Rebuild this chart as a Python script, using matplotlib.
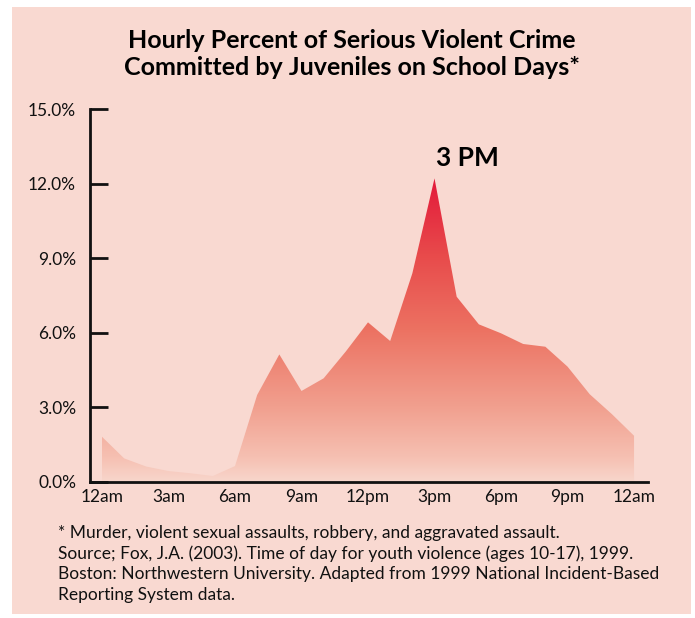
import numpy as np
import matplotlib.pyplot as plt
from matplotlib.colors import LinearSegmentedColormap
from matplotlib.patches import Polygon, Rectangle

# data: hourly share of serious violent crime, school days
hours = np.arange(0, 25)
pct = [1.82, 0.95, 0.62, 0.44, 0.35, 0.24, 0.64, 3.50, 5.13, 3.66, 4.17, 5.25,
       6.42, 5.67, 8.39, 12.21, 7.45, 6.34, 5.98, 5.55, 5.44, 4.64, 3.53, 2.73, 1.86]
xtick_pos = [0, 3, 6, 9, 12, 15, 18, 21, 24]
xtick_labels = ['12am', '3am', '6am', '9am', '12pm', '3pm', '6pm', '9pm', '12am']
ytick_pos = [0, 3, 6, 9, 12, 15]
ytick_labels = ['0.0%', '3.0%', '6.0%', '9.0%', '12.0%', '15.0%']

bg = '#f9d9d1'
plt.rcParams['font.family'] = ['Lato', 'DejaVu Sans']

fig = plt.figure(figsize=(6.95, 6.18), dpi=100, facecolor='white')
fig.patches.append(Rectangle((12 / 695, 1 - 614 / 618), 679 / 695, 607 / 618,
                             transform=fig.transFigure, facecolor=bg,
                             edgecolor='none', zorder=-10))

ax = fig.add_axes([90 / 695, 1 - 482 / 618, 558 / 695, 373 / 618])
ax.set_facecolor('none')

# gradient area
cmap = LinearSegmentedColormap.from_list('grad', [
    (0.0, '#f8d6cc'), (0.08, '#f6c0b2'), (0.25, '#f19f8e'),
    (0.5, '#ec7262'), (0.75, '#e84a4b'), (1.0, '#e3193a')])
peak = max(pct)
grad = np.linspace(0, 1, 256).reshape(-1, 1)
im = ax.imshow(grad, extent=[hours[0], hours[-1], 0, peak], origin='lower',
               aspect='auto', cmap=cmap, zorder=1)
verts = list(zip(hours, pct)) + [(hours[-1], 0), (hours[0], 0)]
poly = Polygon(verts, closed=True, facecolor='none', edgecolor='none')
ax.add_patch(poly)
im.set_clip_path(poly)

ipk = int(np.argmax(pct))
ax.text(hours[ipk] + 0.05, peak + 0.35, '3 PM', fontsize=19, fontweight='bold',
        ha='left', va='bottom', color='black')

ax.set_xlim(-0.54, 24.63)
ax.set_ylim(0, 15)
ax.set_xticks(xtick_pos)
ax.set_xticklabels(xtick_labels)
ax.set_yticks(ytick_pos)
ax.set_yticklabels(ytick_labels)
ax.tick_params(axis='x', length=0, pad=5, labelsize=12.5, colors='#111111')
ax.tick_params(axis='y', direction='in', length=13, width=2, pad=10,
               labelsize=12.5, colors='#111111')
for s in ['top', 'right']:
    ax.spines[s].set_visible(False)
for s in ['left', 'bottom']:
    ax.spines[s].set_linewidth(2)
    ax.spines[s].set_color('#111111')

fig.text(352 / 695, 1 - 54 / 618,
         'Hourly Percent of Serious Violent Crime\nCommitted by Juveniles on School Days*',
         ha='center', va='center', fontsize=18, fontweight='bold',
         linespacing=1.25, color='black')

foot = ('* Murder, violent sexual assaults, robbery, and aggravated assault.\n'
        'Source; Fox, J.A. (2003). Time of day for youth violence (ages 10-17), 1999.\n'
        'Boston: Northwestern University. Adapted from 1999 National Incident-Based\n'
        'Reporting System data.')
fig.text(58 / 695, 1 - 525 / 618, foot, ha='left', va='top', fontsize=12.5,
         linespacing=1.33, color='#111111')

fig.savefig('out.png', dpi=100, facecolor='white')
